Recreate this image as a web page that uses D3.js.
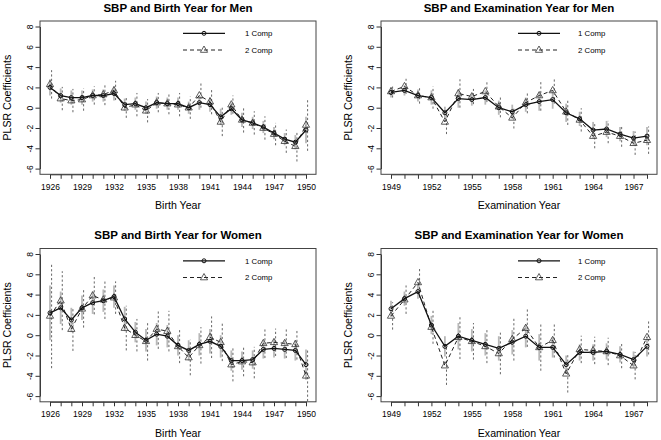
<!DOCTYPE html>
<html><head><meta charset="utf-8">
<script src="https://cdnjs.cloudflare.com/ajax/libs/d3/7.8.5/d3.min.js"></script>
<style>body{margin:0;background:#fff}svg{display:block;font-family:"Liberation Sans",Arial,Helvetica,sans-serif}</style>
</head><body><svg id="c" width="661" height="440"></svg>
<script>
// ---------- data ----------
const birthYears = [1926,1927,1928,1929,1930,1931,1932,1933,1934,1935,1936,1937,1938,1939,1940,1941,1942,1943,1944,1945,1946,1947,1948,1949,1950];
const examYears  = [1949,1950,1951,1952,1953,1954,1955,1956,1957,1958,1959,1960,1961,1962,1963,1964,1965,1966,1967,1968];
const yTicks = [-6,-4,-2,0,2,4,6,8];
const seriesNames = ["1 Comp","2 Comp"];

// Birth year, men
const bm1 = [2.0,1.2,1.0,1.0,1.2,1.2,1.4,0.3,0.4,0.0,0.5,0.4,0.4,0.0,0.5,0.3,-0.9,-0.1,-1.2,-1.5,-1.9,-2.5,-3.1,-3.4,-2.2];
const bm2 = [2.3,0.9,0.7,0.8,1.2,1.3,1.7,0.0,0.3,-0.3,0.5,0.4,0.3,0.0,1.2,0.6,-1.4,0.3,-1.2,-1.5,-2.0,-2.6,-3.3,-3.8,-1.7];
const bmE1 = [0.8,0.7,0.7,0.7,0.6,0.6,0.7,0.6,0.6,0.6,0.6,0.6,0.6,0.6,0.7,0.7,0.8,0.6,0.7,0.6,0.6,0.6,0.6,0.7,1.3];
const bmE2 = [1.4,1.15,1.15,1.1,0.9,1.05,0.95,1.0,1.15,1.15,0.95,1.05,1.15,1.1,1.2,1.25,1.4,0.9,1.25,1.15,1.15,1.1,1.15,1.5,2.55];

// Examination year, men
const em1 = [1.5,1.7,1.2,1.0,-0.5,0.9,0.8,1.0,0.0,-0.4,0.3,0.6,0.8,-0.5,-1.1,-2.2,-2.1,-2.6,-3.0,-2.8];
const em2 = [1.6,2.1,1.2,1.0,-1.4,1.4,1.1,1.6,0.1,-1.0,0.5,1.2,1.7,-0.4,-1.2,-2.8,-2.4,-2.8,-3.5,-3.2];
const emE1 = [0.5,0.5,0.6,0.7,0.6,0.9,0.6,0.7,0.7,0.7,0.7,0.9,0.9,0.9,0.7,0.8,0.8,0.7,0.7,0.9];
const emE2 = [0.6,0.75,0.8,1.1,1.2,1.4,0.75,1.05,1.05,1.05,1.05,1.5,1.3,1.3,1.15,1.2,1.1,1.05,1.15,1.35];

// Birth year, women
const bw1 = [2.2,2.7,1.5,2.7,3.2,3.4,3.8,1.6,0.3,-0.5,0.1,-0.1,-1.0,-1.5,-0.9,-0.6,-1.1,-2.5,-2.5,-2.4,-1.4,-1.3,-1.4,-1.5,-2.9];
const bw2 = [1.9,3.4,0.6,2.6,3.9,3.5,3.7,0.7,0.0,-0.6,0.6,0.4,-1.1,-2.2,-1.0,-0.2,-0.7,-2.9,-2.6,-2.7,-0.8,-0.7,-0.8,-0.9,-4.0];
const bwE1 = [2.7,1.6,1.2,1.2,1.1,1.1,1.1,1.2,1.0,1.1,1.1,1.1,1.0,1.0,1.1,1.2,1.1,1.0,0.9,0.9,0.9,0.9,0.9,1.0,1.5];
const bwE2 = [5.15,2.9,2.15,1.85,1.85,1.9,1.6,2.2,1.6,1.9,1.95,2.0,1.65,1.75,1.8,2.05,1.85,1.65,1.45,1.55,1.45,1.35,1.45,1.5,2.5];

// Examination year, women
const ew1 = [2.6,3.6,4.3,1.0,-1.1,-0.1,-0.5,-0.9,-1.3,-0.7,-0.1,-1.2,-1.2,-2.9,-1.7,-1.7,-1.6,-1.9,-2.4,-1.1];
const ew2 = [1.9,3.5,5.2,0.8,-3.0,-0.2,-0.6,-1.1,-1.8,-0.4,0.7,-1.2,-0.5,-3.8,-1.4,-1.5,-1.6,-2.0,-3.0,-0.2];
const ewE1 = [0.8,0.7,0.7,0.9,1.0,1.3,1.1,1.1,1.2,1.2,1.1,1.3,1.0,0.9,0.8,0.8,0.8,0.8,0.8,1.0];
const ewE2 = [1.35,1.4,1.5,1.65,1.9,2.15,1.8,1.65,2.05,2.1,1.85,2.3,1.7,1.85,1.35,1.35,1.35,1.25,1.35,1.7];

// ---------- layout ----------
const panels = [
  {title:"SBP and Birth Year for Men", xlab:"Birth Year", years:birthYears, v1:bm1, v2:bm2, e1:bmE1, e2:bmE2,
   bx0:40, bx1:316, xr:[50,306], dy:0, leg:{x0:183,x1:225,sx:204,tx:245}},
  {title:"SBP and Examination Year for Men", xlab:"Examination Year", years:examYears, v1:em1, v2:em2, e1:emE1, e2:emE2,
   bx0:381, bx1:657, xr:[391,647], dy:0, leg:{x0:518,x1:560,sx:539,tx:578}},
  {title:"SBP and Birth Year for Women", xlab:"Birth Year", years:birthYears, v1:bw1, v2:bw2, e1:bwE1, e2:bwE2,
   bx0:40, bx1:316, xr:[50,306], dy:227.5, leg:{x0:183,x1:225,sx:204,tx:245}},
  {title:"SBP and Examination Year for Women", xlab:"Examination Year", years:examYears, v1:ew1, v2:ew2, e1:ewE1, e2:ewE2,
   bx0:381, bx1:657, xr:[391,647], dy:227.5, leg:{x0:518,x1:560,sx:539,tx:578}}
];

const svg = d3.select("#c");
const triPath = "M0,-4L3.6,2.3L-3.6,2.3Z";

panels.forEach(p => {
  const g = svg.append("g").attr("transform", `translate(0,${p.dy})`);
  const yTop = 26.5, yBot = 168.6, by0 = 21, by1 = 174.3;
  const x = d3.scaleLinear().domain([p.years[0], p.years[p.years.length-1]]).range(p.xr);
  const y = d3.scaleLinear().domain([-6, 8]).range([yBot, yTop]);
  const first = p.years[0];

  // title
  g.append("text").attr("x", (p.bx0+p.bx1)/2).attr("y", 11.5).attr("text-anchor","middle")
    .attr("font-size", 11.5).attr("font-weight","bold").attr("fill","#000").text(p.title);

  // x axis
  const xa = g.append("g").attr("transform", `translate(0,${by1})`)
    .call(d3.axisBottom(x).tickValues(p.years).tickSize(4.5).tickSizeOuter(0).tickPadding(5)
      .tickFormat(d => ((d-first)%3===0) ? String(d) : ""));
  xa.select(".domain").attr("stroke","#333");
  xa.selectAll(".tick line").attr("stroke","#333");
  xa.selectAll(".tick text").attr("font-size",8.5).attr("fill","#000").attr("font-family","Liberation Sans, Arial, sans-serif");

  // y axis
  const ya = g.append("g").attr("transform", `translate(${p.bx0},0)`)
    .call(d3.axisLeft(y).tickValues(yTicks).tickSize(4.5).tickSizeOuter(0).tickFormat(d => String(d)));
  ya.select(".domain").attr("stroke","#333");
  ya.selectAll(".tick line").attr("stroke","#333");
  ya.selectAll(".tick text").attr("font-size",8.5).attr("fill","#000").attr("font-family","Liberation Sans, Arial, sans-serif")
    .attr("transform","rotate(-90)").attr("x",0).attr("y",-7.5).attr("dy",0).attr("text-anchor","middle");

  // box
  g.append("rect").attr("x",p.bx0).attr("y",by0).attr("width",p.bx1-p.bx0).attr("height",by1-by0)
    .attr("fill","none").attr("stroke","#444").attr("stroke-width",1);

  // axis titles
  g.append("text").attr("x",(p.bx0+p.bx1)/2).attr("y",209).attr("text-anchor","middle")
    .attr("font-size",10.6).attr("fill","#000").text(p.xlab);
  g.append("text").attr("transform",`translate(${p.bx0-29},${(by0+by1)/2}) rotate(-90)`).attr("text-anchor","middle")
    .attr("font-size",10.6).attr("fill","#000").text("PLSR Coefficients");

  // error bars: 1 Comp (grey solid)
  g.append("g").selectAll("line").data(p.years).join("line")
    .attr("x1",(d)=>x(d)).attr("x2",(d)=>x(d))
    .attr("y1",(d,i)=>y(p.v1[i]-p.e1[i])).attr("y2",(d,i)=>y(p.v1[i]+p.e1[i]))
    .attr("stroke","#b8b8b8").attr("stroke-width",1.8);
  // error bars: 2 Comp (dark dashed)
  g.append("g").selectAll("line").data(p.years).join("line")
    .attr("x1",(d)=>x(d)+1.6).attr("x2",(d)=>x(d)+1.6)
    .attr("y1",(d,i)=>y(p.v2[i]-p.e2[i])).attr("y2",(d,i)=>y(p.v2[i]+p.e2[i]))
    .attr("stroke","#555").attr("stroke-width",0.9).attr("stroke-dasharray","2.2,2.2");

  // lines
  const line1 = d3.line().x((d,i)=>x(p.years[i])).y(d=>y(d));
  g.append("path").attr("d", line1(p.v2)).attr("fill","none").attr("stroke","#222")
    .attr("stroke-width",1).attr("stroke-dasharray","4,3");
  g.append("path").attr("d", line1(p.v1)).attr("fill","none").attr("stroke","#111").attr("stroke-width",1.3);

  // markers
  g.append("g").selectAll("path").data(p.v2).join("path")
    .attr("d",triPath).attr("transform",(d,i)=>`translate(${x(p.years[i])},${y(d)})`)
    .attr("fill","none").attr("stroke","#333").attr("stroke-width",0.8);
  g.append("g").selectAll("circle").data(p.v1).join("circle")
    .attr("cx",(d,i)=>x(p.years[i])).attr("cy",d=>y(d)).attr("r",2)
    .attr("fill","none").attr("stroke","#111").attr("stroke-width",1);

  // legend
  const L = p.leg, r1 = 33.3, r2 = 50;
  const lg = g.append("g");
  lg.append("line").attr("x1",L.x0).attr("x2",L.x1).attr("y1",r1).attr("y2",r1).attr("stroke","#111").attr("stroke-width",1.3);
  lg.append("circle").attr("cx",L.sx).attr("cy",r1).attr("r",2).attr("fill","none").attr("stroke","#111");
  lg.append("line").attr("x1",L.x0).attr("x2",L.x1).attr("y1",r2).attr("y2",r2).attr("stroke","#222")
    .attr("stroke-width",1).attr("stroke-dasharray","4,3");
  lg.append("path").attr("d",triPath).attr("transform",`translate(${L.sx},${r2})`).attr("fill","none").attr("stroke","#333").attr("stroke-width",0.8);
  lg.selectAll("text").data(seriesNames).join("text")
    .attr("x",L.tx).attr("y",(d,i)=> i===0 ? r1 : r2).attr("dy","0.35em")
    .attr("font-size",7.8).attr("fill","#000").text(d=>d);
});
</script></body></html>
